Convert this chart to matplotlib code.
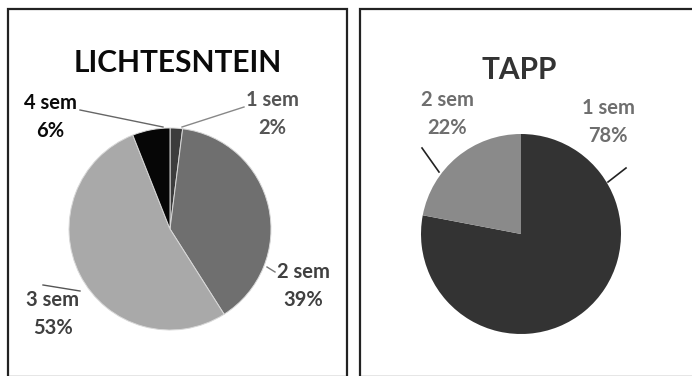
import matplotlib
matplotlib.use("Agg")
import matplotlib.pyplot as plt
from matplotlib.patches import Rectangle

# Data
left_title = "LICHTESNTEIN"
left_labels = ["1 sem", "2 sem", "3 sem", "4 sem"]
left_values = [2, 39, 53, 6]
right_title = "TAPP"
right_labels = ["1 sem", "2 sem"]
right_values = [78, 22]

W, H = 692, 376
fig = plt.figure(figsize=(W / 100, H / 100), dpi=100)
fig.patch.set_facecolor("white")
ax = fig.add_axes([0, 0, 1, 1])
ax.set_xlim(0, W)
ax.set_ylim(0, H)
ax.set_aspect("equal")
ax.axis("off")

def Y(py):
    return H - py

# Panel borders
ax.add_patch(Rectangle((8, Y(377)), 339, 368, fill=False, edgecolor="#222222", lw=1.6, clip_on=False))
ax.add_patch(Rectangle((360, Y(377)), 340, 368, fill=False, edgecolor="#222222", lw=1.6, clip_on=False))

FONT = "Lato"
LFS = 14.5

# Left pie
ax.pie(left_values, colors=["#3c3c3c", "#6f6f6f", "#a9a9a9", "#060606"],
       startangle=90, counterclock=False, center=(170, Y(229)), radius=101,
       wedgeprops=dict(edgecolor="#d8d8d8", linewidth=0.7), frame=True)
ax.set_xlim(0, W); ax.set_ylim(0, H); ax.axis("off")

ax.text(178, Y(63), left_title, ha="center", va="center", fontsize=21.5,
        fontweight="bold", color="#0a0a0a", family=FONT)

lcol = ["#555555", "#404040", "#404040", "#0a0a0a"]
lpos = [(272, 100), (303, 272), (53, 300), (50, 103)]
for lab, val, c, (x, y) in zip(left_labels, left_values, lcol, lpos):
    ax.text(x, Y(y), lab, ha="center", va="center", fontsize=LFS, fontweight="bold", color=c, family=FONT)
    ax.text(x, Y(y + 28), f"{val}%", ha="center", va="center", fontsize=LFS, fontweight="bold", color=c, family=FONT)

# leader lines left
ax.plot([182, 244], [Y(127), Y(107)], color="#888888", lw=1)
ax.plot([163, 80], [Y(127), Y(110)], color="#666666", lw=1)
ax.plot([267, 275], [Y(267), Y(272)], color="#777777", lw=1)
ax.plot([80, 43], [Y(291), Y(285)], color="#555555", lw=1)

# Right pie
ax.pie(right_values, colors=["#333333", "#8a8a8a"],
       startangle=90, counterclock=False, center=(521, Y(234)), radius=100,
       wedgeprops=dict(edgecolor="none"), frame=True)
ax.set_xlim(0, W); ax.set_ylim(0, H); ax.axis("off")

ax.text(519, Y(70), right_title, ha="center", va="center", fontsize=21.5,
        fontweight="bold", color="#333333", family=FONT)

rpos = [(608, 108), (447, 100)]
for lab, val, (x, y) in zip(right_labels, right_values, rpos):
    ax.text(x, Y(y), lab, ha="center", va="center", fontsize=LFS, fontweight="bold", color="#6e6e6e", family=FONT)
    ax.text(x, Y(y + 28), f"{val}%", ha="center", va="center", fontsize=LFS, fontweight="bold", color="#6e6e6e", family=FONT)

ax.plot([608, 626], [Y(182), Y(168)], color="#222222", lw=1.2)
ax.plot([439, 422], [Y(172), Y(148)], color="#222222", lw=1.2)

fig.savefig("out.png", dpi=100, facecolor="white")
